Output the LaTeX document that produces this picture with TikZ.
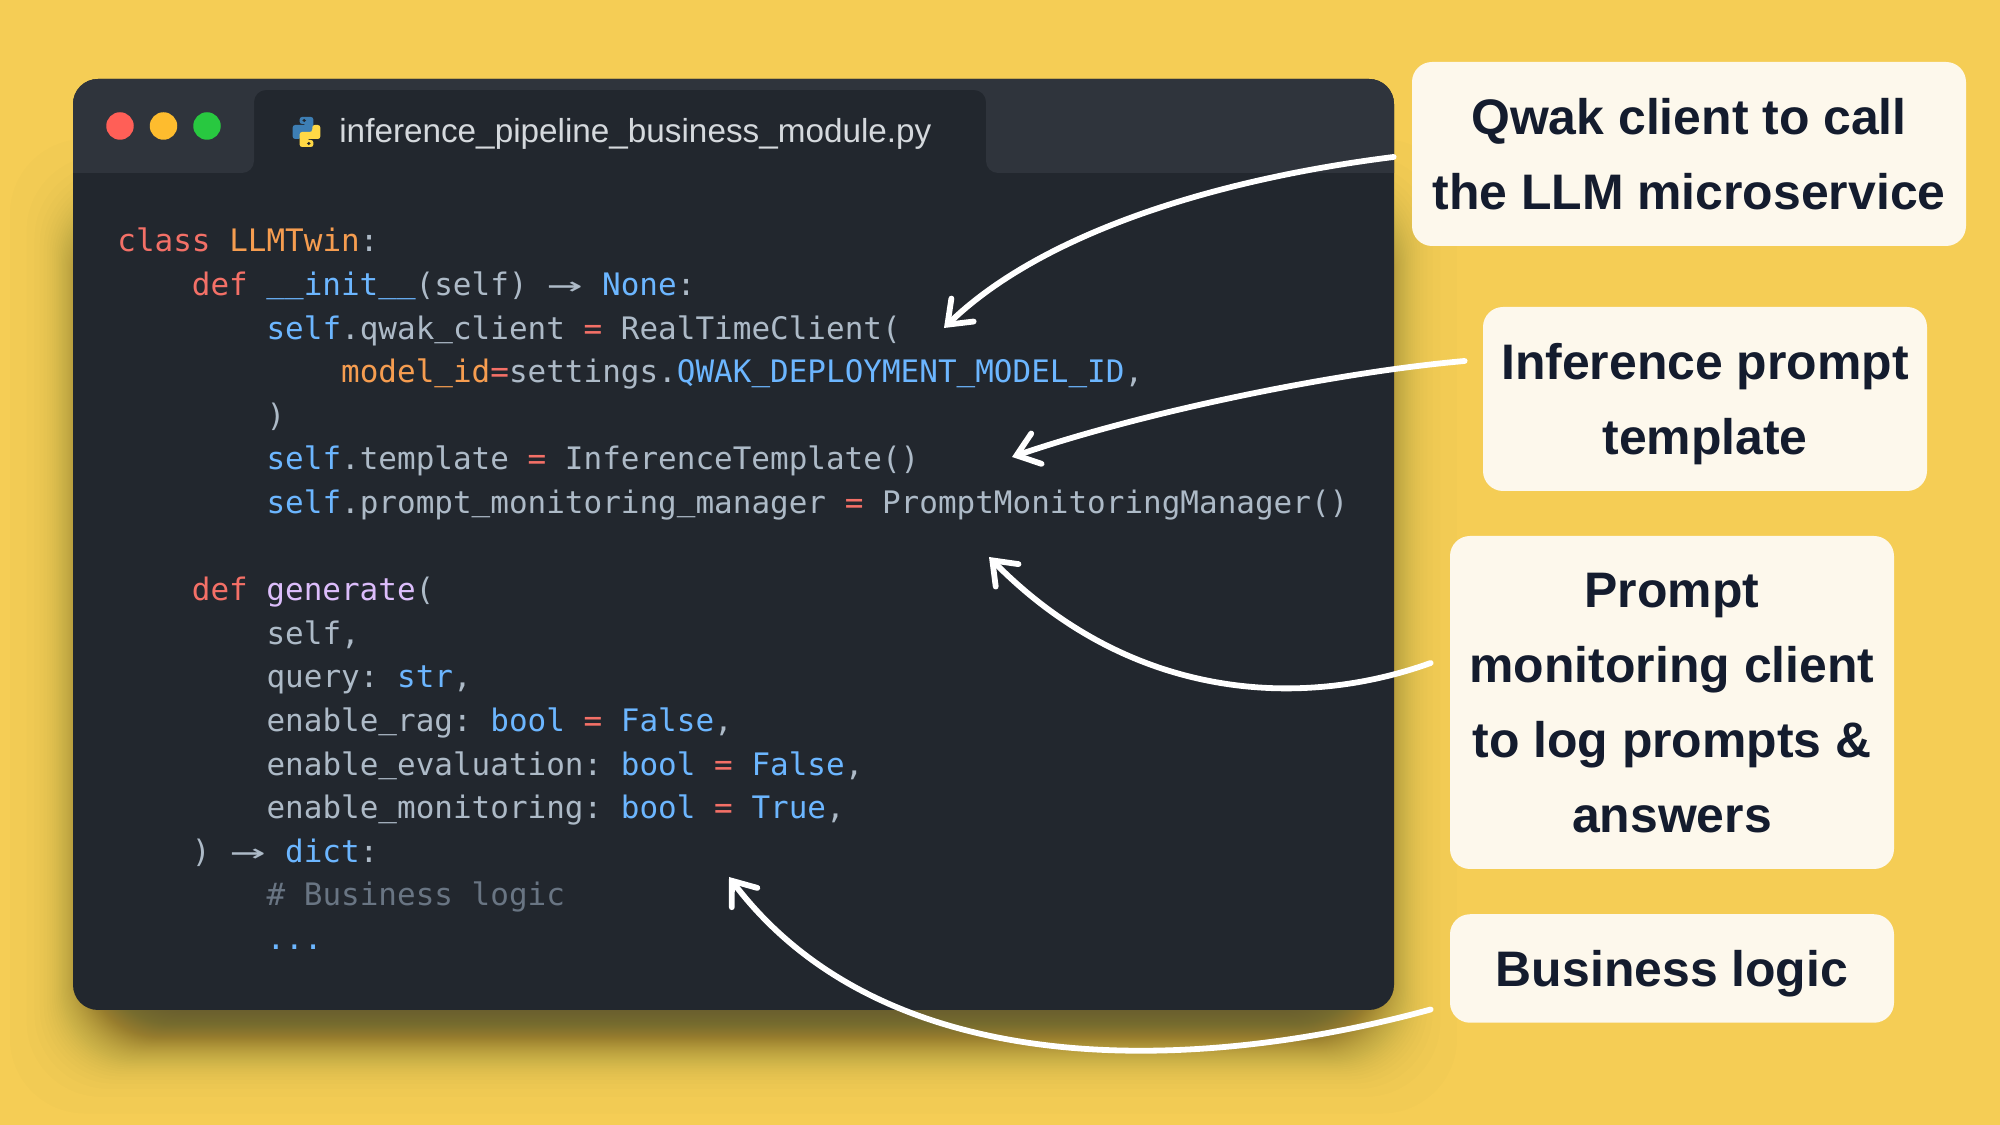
\documentclass[tikz,border=0pt]{standalone}
\usepackage{graphicx}
\usepackage{fontspec}
\setmainfont{Liberation Sans}
\newfontfamily\codefont{DejaVu Sans Mono}
\usetikzlibrary{arrows.meta}

\definecolor{pagebg}{HTML}{F5CD55}
\definecolor{winbody}{HTML}{22272E}
\definecolor{winbar}{HTML}{2F343C}
\definecolor{boxbg}{HTML}{FDF8EC}
\definecolor{boxtext}{HTML}{141C2E}
\definecolor{tabtext}{HTML}{D5D9DD}
\definecolor{codegrey}{HTML}{ADBAC7}
\definecolor{codered}{HTML}{F47067}
\definecolor{codeorange}{HTML}{F69D50}
\definecolor{codeblue}{HTML}{6CB6FF}
\definecolor{codepurple}{HTML}{DCBDFB}
\definecolor{codecomment}{HTML}{697583}
\definecolor{dotred}{HTML}{FF5F57}
\definecolor{dotyellow}{HTML}{FEBC2E}
\definecolor{dotgreen}{HTML}{28C840}
\definecolor{pyblue}{HTML}{3D7EB4}
\definecolor{pyyellow}{HTML}{FFD845}

\newcommand{\kw}[1]{\textcolor{codered}{#1}}
\newcommand{\og}[1]{\textcolor{codeorange}{#1}}
\newcommand{\bl}[1]{\textcolor{codeblue}{#1}}
\newcommand{\pu}[1]{\textcolor{codepurple}{#1}}
\newcommand{\us}{\raisebox{1.5pt}{\_}}
\newcommand{\ligarrow}{\makebox[21.22pt]{\scalebox{1.9}[1]{→}}}

\tikzset{
  codeline/.style={anchor=base west, inner sep=0pt, yshift=-0.04cm, text=codegrey, font=\codefont\fontsize{17.63}{20}\selectfont\frenchspacing},
  windot/.style={circle, inner sep=0pt, minimum size=0.55cm},
  callout/.style={fill=boxbg, rounded corners=0.4cm, align=center, inner sep=0pt, text depth=0pt, text=boxtext, font=\bfseries\fontsize{28.4}{42.7}\selectfont},
  pointer/.style={draw=white, line width=3.3pt, line cap=round, -{Straight Barb[length=0.42cm, width=0.64cm, line cap=round]}}
}

\begin{document}
\begin{tikzpicture}
  \useasboundingbox (0,0) rectangle (40,22.5);
  \fill[pagebg] (0,0) rectangle (40,22.5);
  % soft shadow
  \foreach \i in {1,...,80} {
    \pgfmathsetmacro{\s}{0.3*ln((\i-0.5)/(80.5-\i))}
    \fill[winbody, opacity=0.011, rounded corners=1.5cm] (1.72-\s,1.75-\s) rectangle (27.62+\s,18.2+\s);
  }
  % window
  \fill[winbody, rounded corners=0.5cm] (1.46,2.3) rectangle (27.88,20.92);
  \fill[winbar] (1.46,19.04) [rounded corners=0.5cm] -- (1.46,20.92) -- (27.88,20.92) [sharp corners] -- (27.88,19.04) [rounded corners=0.24cm] -- (19.72,19.04) -- (19.72,20.7) -- (5.08,20.7) -- (5.08,19.04) [sharp corners] -- cycle;
  \node[windot, fill=dotred] (reddot) at (2.4,19.98) {};
  \node[windot, fill=dotyellow] (yellowdot) at (3.27,19.98) {};
  \node[windot, fill=dotgreen] (greendot) at (4.14,19.98) {};
  % python icon
  \begin{scope}[shift={(6.13,19.86)}, x=0.023cm, y=0.02cm]
    \fill[pyblue, rounded corners=0.05cm] (-6,15) -- (6,15) -- (6,0) -- (-5,0) -- (-5,-7) -- (-12,-7) -- (-12,7) -- (0,7) -- (0,8) -- (-6,8) -- cycle;
    \fill[pyyellow, rounded corners=0.05cm, rotate=180] (-6,15) -- (6,15) -- (6,0) -- (-5,0) -- (-5,-7) -- (-12,-7) -- (-12,7) -- (0,7) -- (0,8) -- (-6,8) -- cycle;
    \fill[winbody] (-2,11.5) circle (1.6);
    \fill[winbody] (2,-11.5) circle (1.6);
  \end{scope}
  \node[anchor=base west, inner sep=0pt, text=tabtext, font=\fontsize{18.94}{22}\selectfont] (tabname) at (6.78,19.65) {inference\_pipeline\_business\_module.py};
  % code
  \node[codeline] (l0) at (2.34,17.5) {\kw{class} \og{LLMTwin}:};
  \node[codeline] (l1) at (3.83,16.628) {\kw{def} \bl{\us\us{}init\us\us}(self) \ligarrow{} \bl{None}:};
  \node[codeline] (l2) at (5.324,15.756) {\bl{self}.qwak\us{}client \kw{=} RealTimeClient(};
  \node[codeline] (l3) at (6.816,14.884) {\og{model\us{}id}\kw{=}settings.\bl{QWAK\us{}DEPLOYMENT\us{}MODEL\us{}ID},};
  \node[codeline] (l4) at (5.324,14.012) {)};
  \node[codeline] (l5) at (5.324,13.14) {\bl{self}.template \kw{=} InferenceTemplate()};
  \node[codeline] (l6) at (5.324,12.268) {\bl{self}.prompt\us{}monitoring\us{}manager \kw{=} PromptMonitoringManager()};
  \node[codeline] (l8) at (3.83,10.524) {\kw{def} \pu{generate}(};
  \node[codeline] (l9) at (5.324,9.652) {self,};
  \node[codeline] (l10) at (5.324,8.78) {query: \bl{str},};
  \node[codeline] (l11) at (5.324,7.908) {enable\us{}rag: \bl{bool} \kw{=} \bl{False},};
  \node[codeline] (l12) at (5.324,7.036) {enable\us{}evaluation: \bl{bool} \kw{=} \bl{False},};
  \node[codeline] (l13) at (5.324,6.164) {enable\us{}monitoring: \bl{bool} \kw{=} \bl{True},};
  \node[codeline] (l14) at (3.83,5.292) {) \ligarrow{} \bl{dict}:};
  \node[codeline, text=codecomment] (l15) at (5.324,4.42) {\# Business logic};
  \node[codeline, text=codeblue] (l16) at (5.324,3.548) {...};
  % callouts
  \node[callout, minimum width=11.08cm, minimum height=3.68cm] (qwakbox) at (33.78,19.42) {Qwak client to call\\the LLM microservice};
  \node[callout, minimum width=8.88cm, minimum height=3.68cm] (templatebox) at (34.1,14.52) {Inference prompt\\template};
  \node[callout, minimum width=8.88cm, minimum height=6.66cm] (monitorbox) at (33.44,8.45) {Prompt\\monitoring client\\to log prompts \&\\answers};
  \node[callout, minimum width=8.88cm, minimum height=2.17cm] (logicbox) at (33.44,3.13) {Business logic};
  % pointers
  \coordinate (qwaktip) at (18.88,15.94);
  \coordinate (templatetip) at (20.24,13.36);
  \coordinate (monitortip) at (19.78,11.36);
  \coordinate (logictip) at (14.58,4.96);
  \draw[pointer] ([shift={(-0.36,-0.06)}]qwakbox.west) .. controls (24.2,18.9) and (20.8,17.8) .. (qwaktip);
  \draw[pointer] ([shift={(-0.36,0.76)}]templatebox.west) .. controls (26.8,15.06) and (23,14.3) .. (templatetip);
  \draw[pointer] ([shift={(-0.38,0.79)}]monitorbox.west) .. controls (26,8.3) and (22.6,8.5) .. (monitortip);
  \draw[pointer] ([shift={(-0.38,-0.82)}]logicbox.west) .. controls (24.2,1.1) and (17.8,0.7) .. (logictip);
\end{tikzpicture}
\end{document}
